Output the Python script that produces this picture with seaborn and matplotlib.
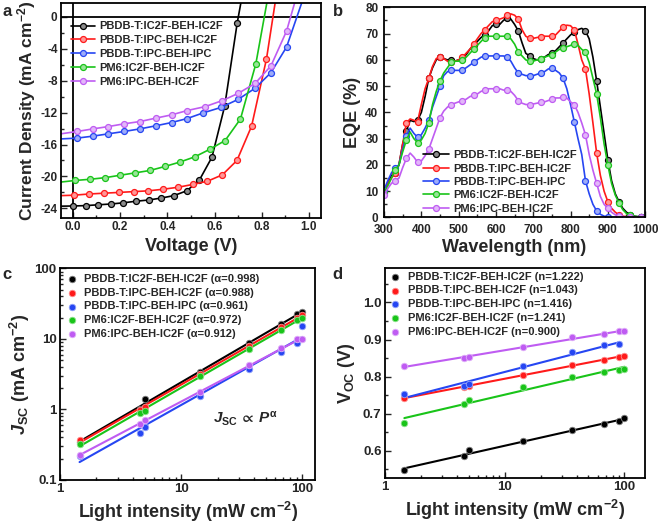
import numpy as np
import matplotlib
matplotlib.use("Agg")
import matplotlib.pyplot as plt
import matplotlib.colors as mcolors
from matplotlib.ticker import MultipleLocator, LogLocator, NullFormatter, FixedLocator
import seaborn as sns

sns.set_style("ticks")
plt.rcParams["font.family"] = ["Liberation Sans", "DejaVu Sans"]
plt.rcParams["font.weight"] = "bold"
plt.rcParams["axes.labelweight"] = "bold"
plt.rcParams["axes.unicode_minus"] = False
plt.rcParams["mathtext.fontset"] = "custom"
plt.rcParams["mathtext.rm"] = "Liberation Sans:bold"
plt.rcParams["mathtext.bf"] = "Liberation Sans:bold"
plt.rcParams["mathtext.it"] = "Liberation Sans:italic:bold"
plt.rcParams["mathtext.default"] = "rm"
plt.rcParams["mathtext.fallback"] = "stixsans"

# ---------------- data ----------------
names = ["PBDB-T:IC2F-BEH-IC2F", "PBDB-T:IPC-BEH-IC2F", "PBDB-T:IPC-BEH-IPC",
         "PM6:IC2F-BEH-IC2F", "PM6:IPC-BEH-IC2F"]
colors = ["#000000", "#ff1a1a", "#2646f2", "#19c419", "#bf5cf2"]

# (a) J-V curves
v_black = [-0.05, 0.0, 0.054, 0.107, 0.161, 0.214, 0.268, 0.321, 0.375, 0.428, 0.482, 0.535, 0.589, 0.643, 0.696, 0.712]
j_black = [-23.72, -23.7, -23.65, -23.55, -23.45, -23.3, -23.1, -22.95, -22.7, -22.4, -21.8, -20.5, -17.6, -11.2, -0.8, 1.8]
v_red = [-0.05, 0.004, 0.067, 0.13, 0.195, 0.257, 0.32, 0.383, 0.446, 0.508, 0.57, 0.633, 0.695, 0.757, 0.82, 0.857]
j_red = [-22.4, -22.35, -22.2, -22.1, -22.0, -21.9, -21.8, -21.6, -21.35, -21.0, -20.6, -19.8, -18.0, -13.7, -5.3, 1.8]
v_blue = [-0.05, 0.018, 0.086, 0.151, 0.217, 0.285, 0.351, 0.418, 0.484, 0.551, 0.628, 0.7, 0.772, 0.839, 0.905, 0.97]
j_blue = [-15.3, -15.2, -14.95, -14.66, -14.37, -14.04, -13.66, -13.25, -12.75, -12.05, -11.35, -10.35, -8.95, -7.0, -3.8, 1.8]
v_green = [-0.05, 0.011, 0.074, 0.137, 0.2, 0.264, 0.327, 0.39, 0.453, 0.516, 0.58, 0.645, 0.71, 0.775, 0.822]
j_green = [-20.7, -20.5, -20.35, -20.15, -19.85, -19.55, -19.25, -18.75, -18.2, -17.55, -16.6, -15.5, -12.8, -5.9, 1.8]
v_purple = [-0.05, 0.018, 0.086, 0.151, 0.217, 0.285, 0.351, 0.418, 0.484, 0.561, 0.633, 0.7, 0.772, 0.839, 0.905, 0.94]
j_purple = [-14.66, -14.37, -14.04, -13.75, -13.41, -13.12, -12.7, -12.29, -11.75, -11.25, -10.5, -9.6, -8.35, -6.15, -1.8, 1.8]

# (b) EQE spectra, 300-1000 nm every 10 nm
wl = np.arange(300, 1001, 10)
eqe_black = [10, 13, 16, 17, 20, 28, 33, 37, 36.5, 37,
             40, 46, 53, 57, 60, 61, 60.5, 60, 60, 59.5,
             60, 60.5, 62, 64, 65.5, 67, 68.5, 69.5, 71, 73,
             73.5, 73.5, 75, 76, 75.5, 73.5, 71, 66.5, 62.5, 61.5,
             60.5, 60, 60.3, 61, 62, 62.5, 63.5, 65, 66.5, 68,
             69.5, 70.5, 71.5, 72, 71, 68, 61, 52, 42, 32,
             22, 14, 9, 6, 3.5, 2, 1, 0.5, 0.3, 0.2,
             0.2]
eqe_red = [10.5, 13, 15, 17, 20, 28, 36, 37.5, 37, 36.5,
           43, 49, 53, 57.5, 60.5, 61, 60.5, 59.5, 59, 59.5,
           60, 61, 62.5, 64, 66, 68, 70, 71.5, 73, 74.5,
           75, 75.5, 76, 77, 77.5, 77, 75.5, 71.5, 69, 68.2,
           68.2, 68.5, 68.8, 69, 69, 69, 69.5, 71, 72.5, 73.2,
           73, 71.5, 66, 60, 56.5, 47, 36, 24.5, 16, 10,
           6, 3.5, 2, 1, 0.5, 0.3, 0.2, 0.1, 0.1, 0.1,
           0.1]
eqe_blue = [10.5, 14, 17, 19, 20, 26, 31, 34, 32, 30.5,
            31.5, 34, 37, 42, 46, 50, 54, 55.5, 56, 56,
            56, 56, 57, 58, 59, 60, 61, 61.5, 61.5, 61.5,
            61.5, 61.5, 61.5, 61, 59.5, 57, 55, 54.5, 54, 54,
            54, 54.5, 55, 55.5, 56.5, 57, 56, 55, 53, 49,
            43, 36.5, 30, 24, 14, 9, 5, 2.5, 1.2, 0.5,
            0.2, 0.1, 0, 0, 0, 0, 0, 0, 0, 0,
            0]
eqe_green = [9.5, 12, 15, 18, 20, 25, 29.5, 32.5, 30, 28.5,
             29.5, 32, 36, 43, 48, 52, 55, 57, 59, 59.5,
             59.5, 59.8, 61, 62.5, 64, 65.5, 67, 68.5, 69, 69,
             69, 69, 69, 69, 68, 66, 63, 61.5, 60, 59.5,
             59.5, 60, 60.5, 61, 61.5, 62, 63, 64, 64.5, 65,
             65.5, 66, 65.5, 64, 63, 59, 53, 47, 38, 28,
             20, 13, 8.5, 5.5, 3, 1.5, 1, 0.5, 0.3, 0.2,
             0.2]
eqe_purple = [8.5, 11, 13, 14, 15, 19, 22.5, 24.5, 23, 21,
              21.5, 23.5, 26, 30, 34, 38, 40.5, 42, 43, 43.5,
              44, 44.5, 45, 46, 46.5, 47, 48, 48.5, 49, 49,
              49, 49, 48.5, 48.5, 48, 46.5, 44.5, 43.5, 43, 43,
              43.2, 43.5, 43.8, 44, 44.5, 45, 45.5, 45.5, 46, 45.5,
              44, 43, 40, 36, 31.5, 24, 18, 13, 8, 5,
              3.5, 2, 1, 0.5, 0.3, 0.2, 0.1, 0, 0, 0,
              0]

# (c)/(d) light intensity dependence
intensity = [1.45, 4.55, 5.0, 14.3, 36.5, 67, 91, 100]
jsc_black = [0.34, 1.0, 1.42, 3.4, 8.6, 16.0, 22.5, 24.0]
jsc_red = [0.365, 0.98, 1.09, 3.2, 7.8, 14.5, 20.0, 22.0]
jsc_blue = [0.22, 0.46, 0.565, 1.55, 3.7, 6.5, 8.7, 15.0]
jsc_green = [0.32, 0.90, 0.95, 2.95, 7.2, 13.5, 18.5, 19.5]
jsc_purple = [0.227, 0.62, 0.70, 1.75, 4.2, 7.4, 9.8, 9.8]
alphas = ["0.998", "0.988", "0.961", "0.972", "0.912"]

voc_black = [0.548, 0.586, 0.601, 0.626, 0.655, 0.671, 0.680, 0.689]
voc_red = [0.742, 0.772, 0.775, 0.805, 0.832, 0.846, 0.852, 0.856]
voc_blue = [0.752, 0.775, 0.779, 0.828, 0.866, 0.884, 0.889]
voc_green = [0.676, 0.727, 0.738, 0.771, 0.798, 0.812, 0.819, 0.821]
voc_purple = [0.828, 0.850, 0.853, 0.880, 0.906, 0.916, 0.922, 0.922]
n_ideal = ["1.222", "1.043", "1.416", "1.241", "0.900"]

jv = [(v_black, j_black), (v_red, j_red), (v_blue, j_blue), (v_green, j_green), (v_purple, j_purple)]
eqes = [eqe_black, eqe_red, eqe_blue, eqe_green, eqe_purple]
jscs = [jsc_black, jsc_red, jsc_blue, jsc_green, jsc_purple]
vocs = [voc_black, voc_red, voc_blue, voc_green, voc_purple]


def light(c, f=0.55):
    r, g, b = mcolors.to_rgb(c)
    return (r + (1 - r) * f, g + (1 - g) * f, b + (1 - b) * f)


def style_axes(ax, tick_size):
    for s in ax.spines.values():
        s.set_linewidth(1.3)
        s.set_color("black")
    ax.tick_params(which="both", direction="in", top=False, right=False, width=1.0,
                   labelsize=tick_size, pad=2.5)
    ax.tick_params(which="major", length=4)
    ax.tick_params(which="minor", length=2)
    for t in ax.get_xticklabels() + ax.get_yticklabels():
        t.set_fontweight("bold")


fig = plt.figure(figsize=(6.61, 5.24), dpi=100)
ax_a = fig.add_axes([0.0923, 0.584, 0.393, 0.410])
ax_b = fig.add_axes([0.581, 0.585, 0.395, 0.401])
ax_c = fig.add_axes([0.0908, 0.084, 0.386, 0.404])
ax_d = fig.add_axes([0.5825, 0.088, 0.394, 0.400])

# ---------------- (a) ----------------
ax_a.axhline(0, color="black", lw=1.3, zorder=1)
ax_a.axvline(0, color="black", lw=1.3, zorder=1)
for (v, j), c, nm in zip(jv, colors, names):
    sns.lineplot(x=v, y=j, ax=ax_a, color=c, lw=1.2, marker="o", markersize=4.3,
                 markerfacecolor=light(c), markeredgecolor=c, markeredgewidth=0.9,
                 markevery=slice(1, -1), label=nm, sort=False)
ax_a.set_xlim(-0.05, 1.05)
ax_a.set_ylim(-25.2, 1.7)
ax_a.xaxis.set_major_locator(MultipleLocator(0.2))
ax_a.xaxis.set_minor_locator(MultipleLocator(0.1))
ax_a.yaxis.set_major_locator(MultipleLocator(4))
ax_a.yaxis.set_minor_locator(MultipleLocator(2))
ax_a.xaxis.set_major_formatter(matplotlib.ticker.FormatStrFormatter("%.1f"))
ax_a.set_xlabel("Voltage (V)", fontsize=13, labelpad=3)
ax_a.set_ylabel("Current Density (mA cm$^{-2}$)", fontsize=12.5, labelpad=2)
style_axes(ax_a, 8.5)
ax_a.legend(loc="upper left", bbox_to_anchor=(0.03, 0.925), frameon=False,
            handlelength=2.2, handletextpad=0.35, labelspacing=0.35, borderaxespad=0,
            borderpad=0.2, prop={"weight": "bold", "size": 8})

# ---------------- (b) ----------------
for e, c, nm in zip(eqes, colors, names):
    sns.lineplot(x=wl, y=e, ax=ax_b, color=c, lw=1.2, marker="o", markersize=4.3,
                 markerfacecolor=light(c), markeredgecolor=c, markeredgewidth=0.9,
                 markevery=3, label=nm)
ax_b.set_xlim(300, 1000)
ax_b.set_ylim(0, 80)
ax_b.xaxis.set_major_locator(MultipleLocator(100))
ax_b.xaxis.set_minor_locator(MultipleLocator(50))
ax_b.yaxis.set_major_locator(MultipleLocator(10))
ax_b.yaxis.set_minor_locator(MultipleLocator(5))
ax_b.set_xlabel("Wavelength (nm)", fontsize=13, labelpad=2)
ax_b.set_ylabel("EQE (%)", fontsize=13, labelpad=3)
style_axes(ax_b, 8.5)
ax_b.tick_params(axis="x", pad=5)
ax_b.tick_params(axis="y", pad=4)
ax_b.legend(loc="upper left", bbox_to_anchor=(0.14, 0.33), frameon=False,
            handlelength=2.4, handletextpad=0.35, labelspacing=0.3, borderaxespad=0,
            borderpad=0.2, prop={"weight": "bold", "size": 8})

# ---------------- (c) ----------------
for jsc, c, nm, a in zip(jscs, colors, names, alphas):
    x = np.array(intensity[:len(jsc)])
    sns.scatterplot(x=x, y=jsc, ax=ax_c, color=c, s=22, edgecolor=light(c, 0.5),
                    linewidth=0.6, label=f"{nm} (\u03b1={a})", zorder=3)
    p = np.polyfit(np.log10(x), np.log10(jsc), 1)
    sns.lineplot(x=x, y=10 ** np.polyval(p, np.log10(x)), ax=ax_c, color=c, lw=1.5, zorder=2)
ax_c.set_xscale("log")
ax_c.set_yscale("log")
ax_c.set_xlim(1, 128)
ax_c.set_ylim(0.1, 100)
ax_c.xaxis.set_major_locator(FixedLocator([1, 10, 100]))
ax_c.yaxis.set_major_locator(FixedLocator([0.1, 1, 10, 100]))
ax_c.xaxis.set_major_formatter(matplotlib.ticker.FuncFormatter(lambda v, p: f"{v:g}"))
ax_c.yaxis.set_major_formatter(matplotlib.ticker.FuncFormatter(lambda v, p: f"{v:g}"))
ax_c.xaxis.set_minor_locator(LogLocator(base=10, subs=np.arange(2, 10)))
ax_c.yaxis.set_minor_locator(LogLocator(base=10, subs=np.arange(2, 10)))
ax_c.xaxis.set_minor_formatter(NullFormatter())
ax_c.yaxis.set_minor_formatter(NullFormatter())
ax_c.set_xlabel("Light intensity (mW cm$^{-2}$)", fontsize=13, labelpad=3)
ax_c.set_ylabel(r"$\mathit{J}_{\mathrm{SC}}$ (mA cm$^{-2}$)", fontsize=13, labelpad=2)
style_axes(ax_c, 9.5)
ax_c.text(0.6, 0.29, r"$\mathit{J}_{\mathrm{SC}}\,\propto\,\mathit{P}^{\alpha}$", transform=ax_c.transAxes,
          fontsize=11, fontweight="bold", va="center")
ax_c.legend(loc="upper left", bbox_to_anchor=(0.015, 0.985), frameon=False,
            handlelength=1.0, handletextpad=0.6, labelspacing=0.35, borderaxespad=0,
            borderpad=0.2, prop={"weight": "bold", "size": 8})

# ---------------- (d) ----------------
for voc, c, nm, n in zip(vocs, colors, names, n_ideal):
    x = np.array(intensity[:len(voc)])
    sns.scatterplot(x=x, y=voc, ax=ax_d, color=c, s=22, edgecolor=light(c, 0.5),
                    linewidth=0.6, label=f"{nm} (n={n})", zorder=3)
    p = np.polyfit(np.log10(x), voc, 1)
    sns.lineplot(x=x, y=np.polyval(p, np.log10(x)), ax=ax_d, color=c, lw=1.5, zorder=2)
ax_d.set_xscale("log")
ax_d.set_xlim(1, 150)
ax_d.set_ylim(0.527, 1.092)
ax_d.xaxis.set_major_locator(FixedLocator([1, 10, 100]))
ax_d.xaxis.set_major_formatter(matplotlib.ticker.FuncFormatter(lambda v, p: f"{v:g}"))
ax_d.xaxis.set_minor_locator(LogLocator(base=10, subs=np.arange(2, 10)))
ax_d.xaxis.set_minor_formatter(NullFormatter())
ax_d.yaxis.set_major_locator(MultipleLocator(0.1))
ax_d.yaxis.set_minor_locator(MultipleLocator(0.05))
ax_d.yaxis.set_major_formatter(matplotlib.ticker.FormatStrFormatter("%.1f"))
ax_d.set_xlabel("Light intensity (mW cm$^{-2}$)", fontsize=13, labelpad=3)
ax_d.set_ylabel("V$_{\\mathrm{OC}}$ (V)", fontsize=13, labelpad=4)
style_axes(ax_d, 9.5)
ax_d.legend(loc="upper left", bbox_to_anchor=(0.01, 0.995), frameon=False,
            handlelength=1.0, handletextpad=0.6, labelspacing=0.35, borderaxespad=0,
            borderpad=0.2, prop={"weight": "bold", "size": 8})

# panel letters
fig.text(0.004, 0.993, "a", fontsize=12, fontweight="bold", va="top")
fig.text(0.503, 0.993, "b", fontsize=12, fontweight="bold", va="top")
fig.text(0.004, 0.49, "c", fontsize=12, fontweight="bold", va="top")
fig.text(0.503, 0.49, "d", fontsize=12, fontweight="bold", va="top")

fig.savefig("out.png", dpi=100)
